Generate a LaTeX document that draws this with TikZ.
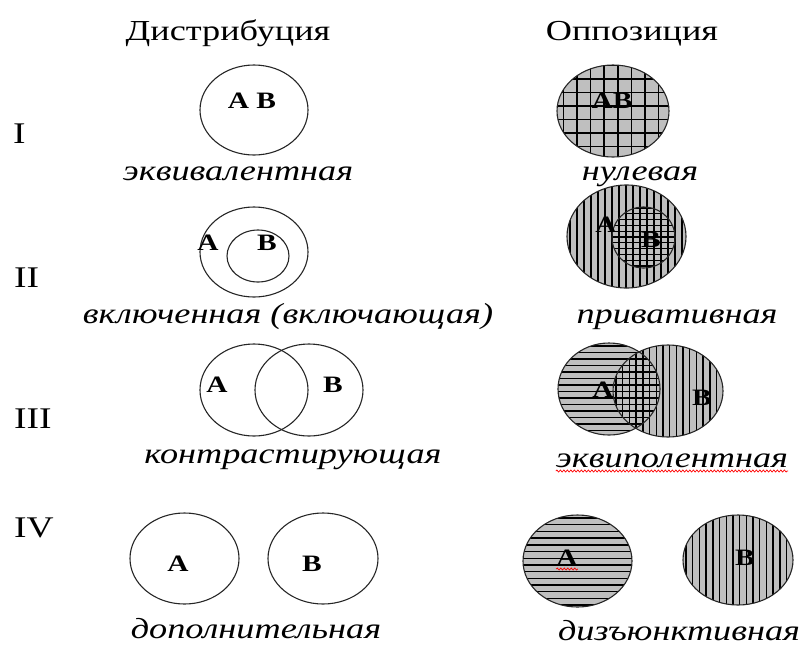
\documentclass[tikz,border=0pt]{standalone}
\usepackage{fontspec}
\setmainfont[FakeStretch=1.25]{Liberation Serif}
\usetikzlibrary{decorations.pathmorphing}
\begin{document}
\begin{tikzpicture}[x=1pt,y=-1pt,
  heading/.style={font=\fontsize{29}{30}\selectfont, anchor=base, inner sep=0pt},
  rowlbl/.style={font=\fontsize{30}{31}\selectfont, anchor=base west, inner sep=0pt},
  kind/.style={font=\itshape\fontsize{29}{30}\selectfont, anchor=base, inner sep=0pt},
  letter/.style={font=\bfseries\fontsize{23.5}{24}\selectfont, anchor=base, inner sep=0pt},
  ring/.style={draw=black!85, line width=1.1pt},
  grayfill/.style={fill=black!25},
  hatch/.style={line width=1.4pt, black},
  spell/.style={draw=red, line width=0.7pt, decorate, decoration={snake, amplitude=1pt, segment length=3.5pt}}]
\useasboundingbox (0,0) rectangle (806,646);

% headings
\node[heading] (hdist) at (228,40) {Дистрибуция};
\node[heading] (hopp) at (632,40) {Оппозиция};

% row labels
\node[rowlbl] (r1) at (13,143) {I};
\node[rowlbl] (r2) at (14,287) {II};
\node[rowlbl] (r3) at (14,428) {III};
\node[rowlbl] (r4) at (14,537) {IV};

% ---------- Distribution ----------
% I
\draw[ring] (254,110) ellipse [x radius=54pt, y radius=45pt];
\node[letter] (d1ab) at (252,108) {А В};
\node[kind] (d1t) at (238,180) {эквивалентная};
% II
\draw[ring] (254,252) ellipse [x radius=54pt, y radius=45pt];
\draw[ring] (258,256) ellipse [x radius=31pt, y radius=26pt];
\node[letter] (d2a) at (208,250) {А};
\node[letter] (d2b) at (267,250) {В};
\node[kind] (d2t) at (288,323) {включенная (включающая)};
% III
\draw[ring] (254,390) ellipse [x radius=54pt, y radius=46pt];
\draw[ring] (309,390) ellipse [x radius=54pt, y radius=46pt];
\node[letter] (d3a) at (217,392) {А};
\node[letter] (d3b) at (333,392) {В};
\node[kind] (d3t) at (293,463) {контрастирующая};
% IV
\draw[ring] (184.5,558.5) ellipse [x radius=54.5pt, y radius=45.5pt];
\draw[ring] (323,558.5) ellipse [x radius=55pt, y radius=45.5pt];
\node[letter] (d4a) at (178,571) {А};
\node[letter] (d4b) at (312,571) {В};
\node[kind] (d4t) at (256,638) {дополнительная};

% ---------- Opposition ----------
% I : zero (grid)
\begin{scope}
  \clip (613,111) ellipse [x radius=56pt, y radius=46pt];
  \fill[grayfill] (550,60) rectangle (675,162);
  \foreach \i in {0,...,7} \draw[hatch, line width=1.6pt] ({563.3+13.6*\i},60) -- ({563.3+13.6*\i},162);
  \foreach \i in {0,...,7} \draw[hatch, line width=1.6pt] (550,{65.5+13.5*\i}) -- (675,{65.5+13.5*\i});
\end{scope}
\draw[ring] (613,111) ellipse [x radius=56pt, y radius=46pt];
\node[letter] (o1ab) at (612,108) {АВ};
\node[kind] (o1t) at (640,180) {нулевая};

% II : privative
\begin{scope}
  \clip (626.5,236.5) ellipse [x radius=59.5pt, y radius=51.5pt];
  \fill[grayfill] (560,180) rectangle (690,292);
  \foreach \i in {0,...,17} \draw[hatch] ({570+7*\i},180) -- ({570+7*\i},292);
\end{scope}
\begin{scope}
  \clip (643.5,237.5) ellipse [x radius=31.5pt, y radius=30.5pt];
  \foreach \i in {0,...,11} \draw[hatch, line width=1.2pt] (605,{208+5.8*\i}) -- (680,{208+5.8*\i});
  \foreach \i in {0,...,8} \draw[hatch, line width=1.2pt] ({611.5+7*\i},200) -- ({611.5+7*\i},275);
\end{scope}
\draw[ring] (626.5,236.5) ellipse [x radius=59.5pt, y radius=51.5pt];
\draw[ring] (643.5,237.5) ellipse [x radius=31.5pt, y radius=30.5pt];
\node[letter] (o2a) at (606,232) {А};
\node[letter] (o2b) at (651,247) {В};
\node[kind] (o2t) at (677,323) {привативная};

% III : equipollent
\fill[grayfill] (609,389) ellipse [x radius=51pt, y radius=46pt];
\fill[grayfill] (668,391) ellipse [x radius=55pt, y radius=46pt];
\begin{scope}
  \clip (609,389) ellipse [x radius=51pt, y radius=46pt];
  \foreach \i in {0,...,14} \draw[hatch] (555,{346+6.5*\i}) -- (665,{346+6.5*\i});
\end{scope}
\begin{scope}
  \clip (668,391) ellipse [x radius=55pt, y radius=46pt];
  \foreach \i in {0,...,16} \draw[hatch] ({616+6.7*\i},343) -- ({616+6.7*\i},440);
\end{scope}
\draw[ring] (609,389) ellipse [x radius=51pt, y radius=46pt];
\draw[ring] (668,391) ellipse [x radius=55pt, y radius=46pt];
\node[letter] (o3a) at (603,397) {А};
\node[letter] (o3b) at (702,405) {В};
\node[kind] (o3t) at (672,467) {эквиполентная};
\draw[spell] ([yshift=-4pt]o3t.base west) -- ([yshift=-4pt]o3t.base east);

% IV : disjunctive
\begin{scope}
  \clip (577.5,561) ellipse [x radius=54.5pt, y radius=46pt];
  \fill[grayfill] (520,512) rectangle (635,610);
  \foreach \i in {0,...,13} \draw[hatch] (520,{518+6.7*\i}) -- (635,{518+6.7*\i});
\end{scope}
\draw[ring] (577.5,561) ellipse [x radius=54.5pt, y radius=46pt];
\begin{scope}
  \clip (738,560) ellipse [x radius=55pt, y radius=45pt];
  \fill[grayfill] (680,512) rectangle (796,608);
  \foreach \i in {0,...,16} \draw[hatch] ({686+6.7*\i},512) -- ({686+6.7*\i},608);
\end{scope}
\draw[ring] (738,560) ellipse [x radius=55pt, y radius=45pt];
\node[letter] (o4a) at (567,565) {А};
\node[letter] (o4b) at (745,565) {В};
\draw[spell] ([yshift=-4pt]o4a.base west) -- ([yshift=-4pt]o4a.base east);
\node[kind] (o4t) at (679,640) {дизъюнктивная};
\end{tikzpicture}
\end{document}
